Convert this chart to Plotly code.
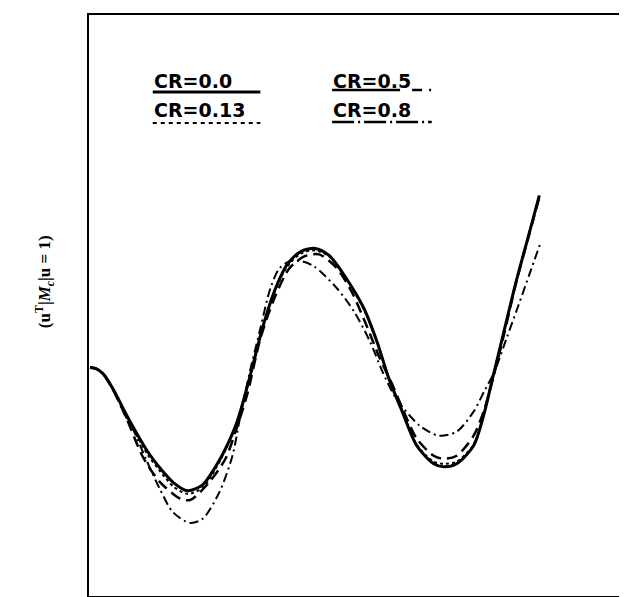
import plotly.graph_objects as go

# Data (arbitrary units: x across the frame, y upward)
x_cr00 = [0, 6, 13, 23, 36, 46, 58, 70, 84, 98, 113, 126, 136, 148, 160, 173, 185, 198, 212, 226, 240,
          258, 275, 288, 300, 313, 328, 345, 355, 368, 385, 395, 404, 415, 428, 440, 451]
y_cr00 = [230, 229, 224, 209, 184, 166, 146, 130, 115, 107, 113, 131, 149, 177, 219, 269, 306, 333, 346, 349, 342,
          318, 289, 256, 219, 187, 152, 134, 131, 134, 152, 182, 219, 264, 317, 361, 402]

x_cr013 = [0, 6, 13, 23, 36, 46, 58, 70, 84, 98, 113, 126, 136, 148, 160, 173, 185, 198, 212, 226, 240,
           258, 275, 288, 300, 313, 328, 345, 355, 368, 385, 395, 404, 415, 428, 440, 451]
y_cr013 = [230, 229, 224, 209, 183, 164, 143, 127, 111, 104, 110, 129, 148, 177, 219, 268, 305, 331, 344, 347, 341,
           317, 288, 256, 219, 188, 153, 136, 134, 136, 153, 182, 219, 264, 317, 361, 401]

x_cr05 = [0, 6, 13, 23, 36, 53, 70, 91, 101, 120, 136, 146, 158, 171, 185, 200, 215, 230, 248, 263, 278,
          291, 303, 315, 328, 345, 355, 368, 385, 396, 405, 416, 428, 440, 451]
y_cr05 = [230, 229, 224, 208, 181, 141, 116, 99, 98, 116, 139, 166, 204, 259, 299, 329, 341, 343, 329, 305, 271,
          239, 214, 186, 159, 142, 139, 142, 162, 189, 221, 265, 316, 360, 400]

x_cr08 = [0, 6, 13, 23, 36, 43, 56, 70, 83, 100, 113, 130, 143, 150, 160, 171, 181, 190, 200, 213, 225,
          248, 265, 281, 294, 306, 315, 331, 350, 368, 385, 396, 406, 418, 430, 441, 452]
y_cr08 = [230, 229, 224, 208, 181, 169, 139, 109, 86, 75, 79, 106, 142, 177, 224, 269, 309, 329, 336, 336, 331,
          309, 286, 256, 225, 201, 189, 172, 162, 166, 186, 207, 226, 259, 292, 323, 354]

labels = ["CR=0.0", "CR=0.13", "CR=0.5", "CR=0.8"]
y_title = "(<b>u</b><sup>T</sup>|<i>M<sub>c</sub></i>|<b>u</b> = 1)"

dash_curve = ["solid", "3px,3px", "11px,6px", "9px,4px,2px,4px"]
widths = [3, 2, 2.5, 2]

fig = go.Figure()
for xs, ys, name, dash, w in zip([x_cr00, x_cr013, x_cr05, x_cr08],
                                 [y_cr00, y_cr013, y_cr05, y_cr08],
                                 labels, dash_curve, widths):
    fig.add_trace(go.Scatter(x=xs, y=ys, mode="lines", name=name,
                             line=dict(color="black", width=w, dash=dash, shape="spline", smoothing=0.8)))

# custom legend: label text with sample line underneath
W, H = 627, 597
L, R, T, B = 81, 5, 7, 9
pw, ph = W - L - R, H - T - B

def px(x):
    return (x - L) / pw

def py(y):
    return 1 - (y - T) / ph

legend_spec = [
    (labels[0], 144, 73, 145, 253, 84, "solid", 3),
    (labels[1], 144, 102, 145, 253, 115, "4px,4px", 2),
    (labels[2], 324, 73, 325, 425, 82, "68px,12px,10px,7px,2px,10px", 2.5),
    (labels[3], 324, 102, 325, 425, 114, "22px,4px,2px,4px", 2.5),
]
for text, tx, ty, x0, x1, ly, dash, w in legend_spec:
    fig.add_annotation(x=px(tx), y=py(ty), xref="paper", yref="paper", text="<b>" + text + "</b>",
                       showarrow=False, xanchor="left", yanchor="middle",
                       font=dict(family="DejaVu Sans", size=19, color="black"))
    fig.add_shape(type="line", xref="paper", yref="paper", x0=px(x0), x1=px(x1),
                  y0=py(ly), y1=py(ly), line=dict(color="black", width=w, dash=dash))

fig.add_annotation(x=px(36), y=py(274), xref="paper", yref="paper", text="<b>" + y_title + "</b>",
                   textangle=-90, showarrow=False, xanchor="center", yanchor="middle",
                   font=dict(family="Liberation Serif", size=17, color="black"))

axis_common = dict(showline=True, mirror=True, linecolor="black", linewidth=2,
                   showgrid=False, zeroline=False, showticklabels=False, ticks="")
fig.update_layout(
    width=W, height=H,
    margin=dict(l=L, r=R, t=T, b=B),
    paper_bgcolor="white", plot_bgcolor="white",
    showlegend=False,
    xaxis=dict(range=[-1, 540], **axis_common),
    yaxis=dict(range=[2, 582], **axis_common),
)

fig.write_html("out.html")
